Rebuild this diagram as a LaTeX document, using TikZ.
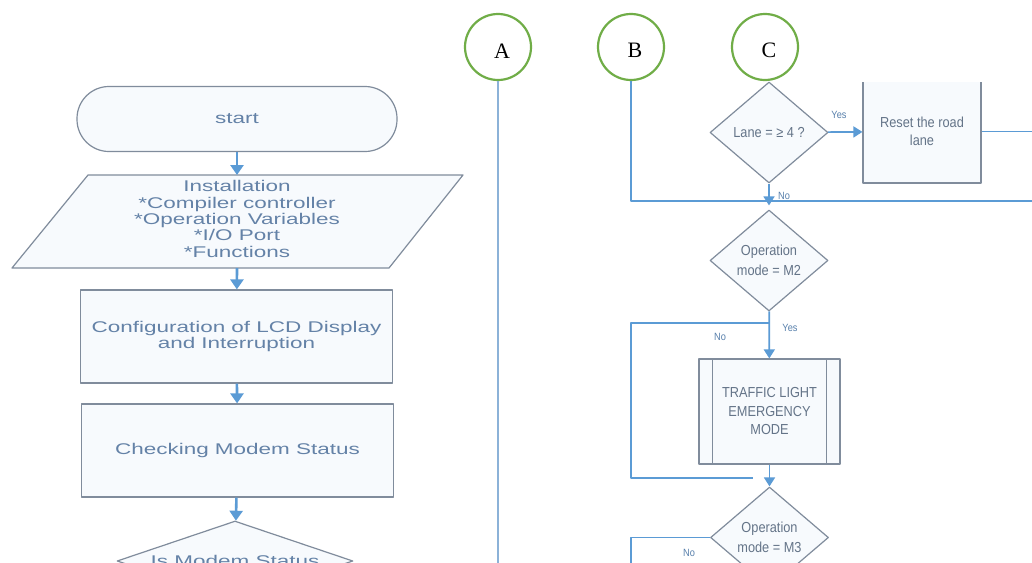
\documentclass[tikz,border=0pt]{standalone}
\usepackage{fontspec}
\setmainfont{Liberation Serif}
\newfontfamily\flowfont[FakeStretch=1.45]{Liberation Sans}
\newfontfamily\narrowfont[FakeStretch=0.88]{Liberation Sans}
\usetikzlibrary{shapes.geometric,arrows.meta}
\definecolor{flowblue}{RGB}{91,155,213}
\definecolor{linkblue}{RGB}{140,178,216}
\definecolor{boxedge}{RGB}{128,140,156}
\definecolor{boxfill}{RGB}{247,250,253}
\definecolor{flowtext}{RGB}{100,130,167}
\definecolor{sidetext}{RGB}{100,116,136}
\definecolor{labelblue}{RGB}{88,128,172}
\definecolor{connGreen}{RGB}{112,173,71}
\begin{document}
\begin{tikzpicture}[x=1pt, y=-1pt, line join=round,
  flowline/.style={draw=flowblue, line width=1.7pt},
  flowarrow/.style={flowline, -{Triangle[width=11pt,length=9pt]}},
  mainarrow/.style={draw=flowblue, line width=2.6pt, -{Triangle[width=13pt,length=10pt]}},
  linkline/.style={draw=linkblue, line width=1.4pt},
  shapeedge/.style={draw=boxedge, fill=boxfill, line width=1.2pt},
  flowtxt/.style={text=flowtext, align=center, font={\fontsize{15.5}{16.3}\flowfont}},
  sidetxt/.style={text=sidetext, align=center, font={\fontsize{14.5}{18.5}\narrowfont}},
  terminal/.style={shapeedge, flowtxt, rectangle, rounded corners=32pt, minimum width=320pt, minimum height=65pt},
  procbox/.style={shapeedge, flowtxt, rectangle, minimum width=312pt, minimum height=93pt},
  bigdecision/.style={shapeedge, flowtxt, diamond, aspect=2.95, inner sep=1pt, minimum width=236pt, minimum height=80pt},
  decision/.style={shapeedge, sidetxt, diamond, aspect=1.17, inner sep=1pt, minimum width=118pt, minimum height=101pt, font={\fontsize{14.5}{19.5}\narrowfont}},
  sidebox/.style={shapeedge, sidetxt, rectangle, minimum width=118pt, minimum height=103pt},
  subproc/.style={shapeedge, sidetxt, rectangle, minimum width=141pt, minimum height=105pt},
  branchlabel/.style={text=labelblue, inner sep=0pt, font={\fontsize{10.5}{12}\narrowfont}},
  connector/.style={circle, draw=connGreen, fill=white, line width=2.2pt, minimum size=66pt, inner sep=0pt, text height=22pt, font={\fontsize{22}{24}\selectfont}}
]
\fill[white] (0,0) rectangle (1032,562);
\path[use as bounding box, clip] (0,0) rectangle (1032,562);
% Left column: start and setup
\node[terminal] (start) at (237,119) {start};
\coordinate (instTop) at (237,175);
\coordinate (instBot) at (237,268);
\draw[shapeedge] (88,175) -- (463,175) -- (389,268) -- (12,268) -- cycle;
\node[flowtxt] (inst) at (237,219) {Installation\\{*}Compiler controller\\{*}Operation Variables\\{*}I/O Port\\{*}Functions};
\node[procbox] (lcd) at (236.5,336.5) {Configuration of LCD Display\\and Interruption};
\node[procbox] (modemchk) at (237.5,450.5) {Checking Modem Status};
\node[bigdecision] (modem) at (235,561) {Is Modem Status};
\draw[mainarrow] (start) -- (instTop);
\draw[mainarrow] (instBot) -- (lcd);
\draw[mainarrow] (lcd) -- (modemchk);
\draw[mainarrow] (modemchk) -- (modem);
% Off-page connectors
\node[connector] (A) at (498,47) {\hspace*{8pt}A};
\node[connector] (B) at (631,47) {\hspace*{8pt}B};
\node[connector] (C) at (765,47) {\hspace*{8pt}C};
\coordinate (aEnd) at (498,570);
\draw[linkline] (A) -- (aEnd);
% Right column: lane check
\node[decision] (lane) at (769,132.5) {Lane = ≥ 4 ?};
\begin{scope}
  \clip (600,82) rectangle (1032,562);
  \node[sidebox] (reset) at (922,131.5) {Reset the road\\lane};
\end{scope}
\coordinate (resetOut) at (1032,131.5);
\draw[flowline] (reset) -- (resetOut);
\draw[flowarrow] (lane) -- (reset);
\node[branchlabel] (yesLane) at (839,115) {Yes};
% Operation mode M2
\node[decision] (mode2) at (769,260.5) {Operation\\mode = M2};
\coordinate (railJoin) at (1032,201);
\draw[flowline] (B) -- (B |- railJoin) -- (railJoin);
\draw[flowarrow, shorten >=4pt] (lane) -- (mode2);
\node[branchlabel] (noLane) at (784,196) {No};
\node[subproc] (emerg) at (769.5,411.5) {TRAFFIC LIGHT\\EMERGENCY\\MODE};
\draw[draw=boxedge, line width=1.2pt] ([xshift=14pt]emerg.north west) -- ([xshift=14pt]emerg.south west);
\draw[draw=boxedge, line width=1.2pt] ([xshift=-14pt]emerg.north east) -- ([xshift=-14pt]emerg.south east);
\draw[flowarrow] (mode2) -- (emerg);
\coordinate (m2split) at (769,323);
\coordinate (loopEnd) at (753,478);
\draw[flowline] (m2split) -- (m2split -| B) -- (B |- loopEnd) -- (loopEnd);
\node[branchlabel] (yesM2) at (790,328) {Yes};
\node[branchlabel] (noM2) at (720,337) {No};
% Operation mode M3
\node[decision] (mode3) at (769.5,537.5) {Operation\\mode = M3};
\draw[flowarrow] (emerg) -- (mode3);
\coordinate (railEnd) at (631,570);
\draw[flowline] (mode3) -- (mode3 -| railEnd) -- (railEnd);
\node[branchlabel] (noM3) at (689,553) {No};
\end{tikzpicture}
\end{document}
